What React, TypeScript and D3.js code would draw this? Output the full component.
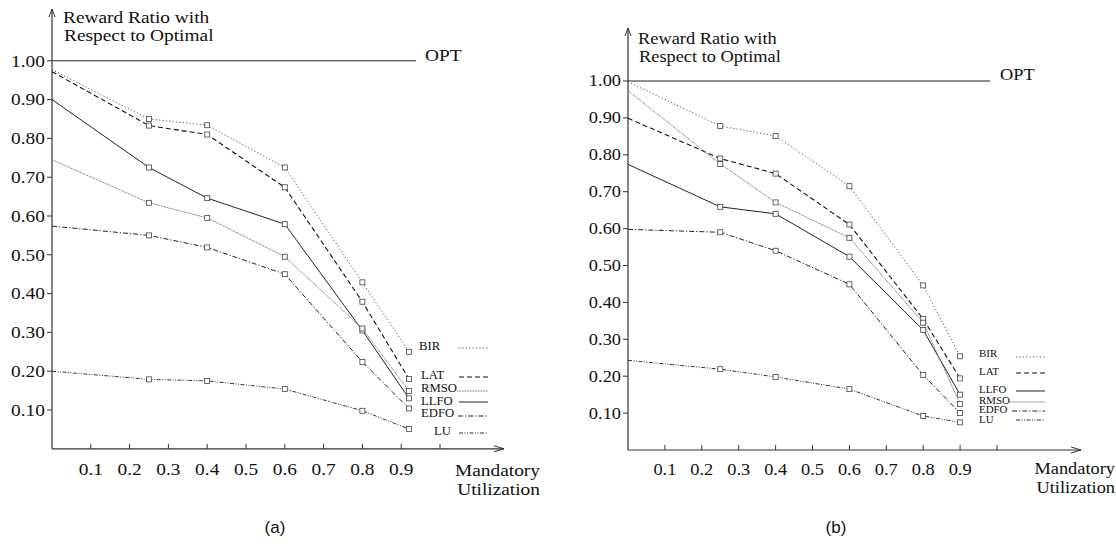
import React from "react";
import * as d3 from "d3";

// x positions of the measured points (mandatory utilization)
const utilA = [0, 0.25, 0.4, 0.6, 0.8, 0.92];
const utilB = [0, 0.25, 0.4, 0.6, 0.8, 0.9];

// reward ratio with respect to optimal, panel (a)
const birA = [0.977, 0.85, 0.834, 0.725, 0.429, 0.25];
const latA = [0.972, 0.833, 0.81, 0.674, 0.379, 0.18];
const llfoA = [0.9, 0.725, 0.646, 0.579, 0.305, 0.13];
const rmsoA = [0.745, 0.634, 0.595, 0.495, 0.31, 0.149];
const edfoA = [0.574, 0.55, 0.519, 0.45, 0.224, 0.104];
const luA = [0.2, 0.179, 0.175, 0.154, 0.098, 0.051];

// panel (b)
const birB = [0.998, 0.878, 0.851, 0.715, 0.446, 0.254];
const latB = [0.899, 0.79, 0.749, 0.611, 0.355, 0.194];
const llfoB = [0.774, 0.659, 0.64, 0.524, 0.325, 0.15];
const rmsoB = [0.974, 0.775, 0.671, 0.575, 0.345, 0.125];
const edfoB = [0.598, 0.59, 0.54, 0.449, 0.203, 0.1];
const luB = [0.243, 0.219, 0.198, 0.165, 0.092, 0.075];

const yTicks = [0.1, 0.2, 0.3, 0.4, 0.5, 0.6, 0.7, 0.8, 0.9, 1.0];
const yTickLabels = ["0.10", "0.20", "0.30", "0.40", "0.50", "0.60", "0.70", "0.80", "0.90", "1.00"];
const xTicks = [0.1, 0.2, 0.3, 0.4, 0.5, 0.6, 0.7, 0.8, 0.9, 1.0];
const xTickLabels = ["0.1", "0.2", "0.3", "0.4", "0.5", "0.6", "0.7", "0.8", "0.9", ""];

// line styles per method
const styles = {
  BIR: { dash: "1.2,2.2", color: "#555", width: 1 },
  LAT: { dash: "5,3", color: "#111", width: 1.1 },
  LLFO: { dash: "none", color: "#222", width: 1 },
  RMSO: { dash: "1,0.6", color: "#777", width: 1 },
  EDFO: { dash: "5,2,1.2,2", color: "#222", width: 1 },
  LU: { dash: "4,1.5,1,1.5,1,1.5", color: "#333", width: 1 },
};

const panels = [
  {
    id: "a",
    ox: 52, oy: 448.8, unit: 388, xEnd: 504, yTop: 9,
    fs: 17.3, sx: 1.12,
    util: utilA,
    series: [
      { name: "BIR", values: birA },
      { name: "LAT", values: latA },
      { name: "LLFO", values: llfoA },
      { name: "RMSO", values: rmsoA },
      { name: "EDFO", values: edfoA },
      { name: "LU", values: luA },
    ],
    legend: [
      { name: "BIR", lx: 419, ly: 346, sy: 348, s0: 459 },
      { name: "LAT", lx: 421, ly: 375, sy: 377, s0: 459 },
      { name: "RMSO", lx: 421, ly: 388.5, sy: 391, s0: 457 },
      { name: "LLFO", lx: 421, ly: 401, sy: 402, s0: 459 },
      { name: "EDFO", lx: 421, ly: 413.5, sy: 416, s0: 458 },
      { name: "LU", lx: 434, ly: 431, sy: 433, s0: 459 },
    ],
    legFs: 12, legSx: 1.06, s1: 488,
    title: [63, 22.5, 64, 41],
    optEnd: 416, optX: 425, optY: 61,
    labRight: 540, labY: [470, 489],
    cap: [275, 527],
  },
  {
    id: "b",
    ox: 628, oy: 450, unit: 369, xEnd: 1081, yTop: 28,
    fs: 16.4, sx: 1.12,
    util: utilB,
    series: [
      { name: "BIR", values: birB },
      { name: "LAT", values: latB },
      { name: "LLFO", values: llfoB },
      { name: "RMSO", values: rmsoB },
      { name: "EDFO", values: edfoB },
      { name: "LU", values: luB },
    ],
    legend: [
      { name: "BIR", lx: 979, ly: 354, sy: 357, s0: 1016 },
      { name: "LAT", lx: 979, ly: 371.5, sy: 373, s0: 1016 },
      { name: "LLFO", lx: 979, ly: 389.5, sy: 391, s0: 1016 },
      { name: "RMSO", lx: 979, ly: 400.5, sy: 402, s0: 1009 },
      { name: "EDFO", lx: 979, ly: 410, sy: 411, s0: 1012 },
      { name: "LU", lx: 979, ly: 419.5, sy: 420, s0: 1016 },
    ],
    legFs: 10.5, legSx: 1.04, s1: 1045,
    title: [638, 43.5, 639, 61.5],
    optEnd: 990, optX: 1000, optY: 80,
    labRight: 1115, labY: [469, 487.5],
    cap: [836, 527],
  },
];

const serif = "'Liberation Serif', 'Times New Roman', serif";

// stretched serif text, like the original figure
function T({ x, y, fs, sx, anchor = "start", children }) {
  return (
    <text
      transform={`translate(${x},${y}) scale(${sx},1)`}
      fontFamily={serif}
      fontSize={fs}
      textAnchor={anchor}
      fill="#111"
    >
      {children}
    </text>
  );
}

function Panel({ p }) {
  const x = d3.scaleLinear().domain([0, 1]).range([p.ox, p.ox + p.unit]);
  const y = d3.scaleLinear().domain([0, 1]).range([p.oy, p.oy - p.unit]);
  const line = d3
    .line()
    .x((d) => x(d[0]))
    .y((d) => y(d[1]));

  return (
    <g>
      {/* axes */}
      <line x1={p.ox} y1={p.oy} x2={p.ox} y2={p.yTop} stroke="#333" strokeWidth={1.2} />
      <path d={`M${p.ox - 3},${p.yTop + 8} L${p.ox},${p.yTop} L${p.ox + 3},${p.yTop + 8}`} fill="none" stroke="#333" strokeWidth={1} />
      <line x1={p.ox} y1={p.oy} x2={p.xEnd} y2={p.oy} stroke="#333" strokeWidth={1.2} />
      <path d={`M${p.xEnd - 10},${p.oy - 3} L${p.xEnd},${p.oy} L${p.xEnd - 10},${p.oy + 3}`} fill="none" stroke="#333" strokeWidth={1} />

      {yTicks.map((t, i) => (
        <g key={"y" + i}>
          <line x1={p.ox - 5} x2={p.ox} y1={y(t)} y2={y(t)} stroke="#333" />
          <T x={p.ox - 7} y={y(t) + p.fs * 0.33} fs={p.fs} sx={p.sx} anchor="end">
            {yTickLabels[i]}
          </T>
        </g>
      ))}
      {xTicks.map((t, i) => (
        <g key={"x" + i}>
          <line x1={x(t)} x2={x(t)} y1={p.oy - 5} y2={p.oy} stroke="#333" />
          <T x={x(t)} y={p.oy + 20 + p.fs * 0.33} fs={p.fs} sx={p.sx} anchor="middle">
            {xTickLabels[i]}
          </T>
        </g>
      ))}

      {/* titles */}
      <T x={p.title[0]} y={p.title[1]} fs={p.fs} sx={p.sx}>Reward Ratio with</T>
      <T x={p.title[2]} y={p.title[3]} fs={p.fs} sx={p.sx}>Respect to Optimal</T>
      <T x={p.labRight} y={p.labY[0] + p.fs * 0.33} fs={p.fs} sx={p.sx} anchor="end">Mandatory</T>
      <T x={p.labRight} y={p.labY[1] + p.fs * 0.33} fs={p.fs} sx={p.sx} anchor="end">Utilization</T>

      {/* optimal reference */}
      <line x1={p.ox} x2={p.optEnd} y1={y(1)} y2={y(1)} stroke="#222" strokeWidth={1.1} />
      <T x={p.optX} y={p.optY} fs={p.fs} sx={p.sx}>OPT</T>

      {/* series */}
      {p.series.map((s) => {
        const st = styles[s.name];
        const pts = p.util.map((u, i) => [u, s.values[i]]);
        return (
          <g key={s.name}>
            <path d={line(pts)} fill="none" stroke={st.color} strokeWidth={st.width} strokeDasharray={st.dash} />
            {pts.slice(1).map((d, i) => (
              <rect
                key={i}
                x={x(d[0]) - 2.5}
                y={y(d[1]) - 2.5}
                width={5}
                height={5}
                fill="white"
                stroke="#444"
                strokeWidth={0.8}
              />
            ))}
          </g>
        );
      })}

      {/* legend */}
      {p.legend.map((l) => {
        const st = styles[l.name];
        return (
          <g key={"l" + l.name}>
            <T x={l.lx} y={l.ly + p.legFs * 0.33} fs={p.legFs} sx={p.legSx}>
              {l.name}
            </T>
            <line x1={l.s0} x2={p.s1} y1={l.sy} y2={l.sy} stroke={st.color} strokeWidth={st.width} strokeDasharray={st.dash} />
          </g>
        );
      })}

      <text
        x={p.cap[0]}
        y={p.cap[1] + 6}
        fontFamily="'Liberation Sans', Arial, sans-serif"
        fontSize={17}
        textAnchor="middle"
        fill="#111"
      >
        ({p.id})
      </text>
    </g>
  );
}

export default function App() {
  return (
    <svg
      width={1116}
      height={546}
      style={{ position: "absolute", left: 0, top: 0, background: "white" }}
    >
      <rect width={1116} height={546} fill="white" />
      {panels.map((p) => (
        <Panel key={p.id} p={p} />
      ))}
    </svg>
  );
}
